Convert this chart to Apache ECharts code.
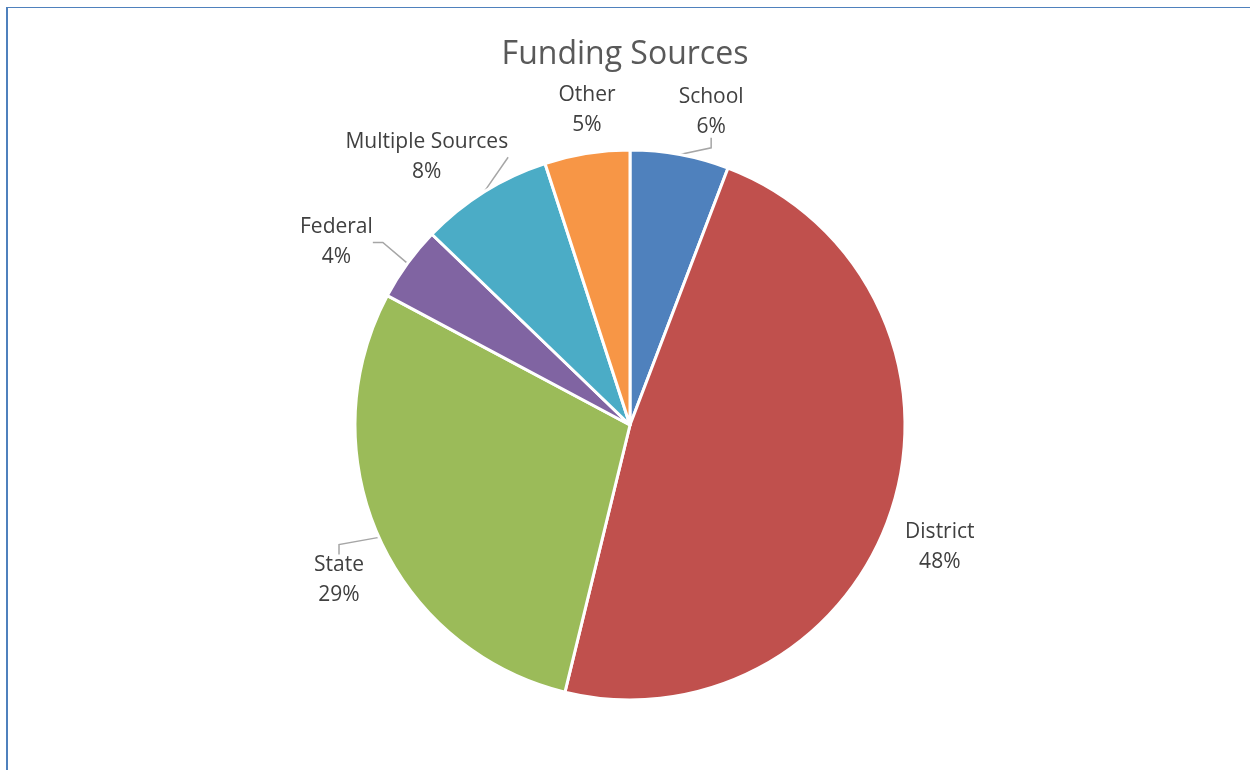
<!DOCTYPE html>
<html>
<head>
<meta charset="utf-8">
<script src="https://cdn.jsdelivr.net/npm/echarts@6/dist/echarts.min.js"></script>
<style>
html,body{margin:0;padding:0;background:#fff;}
#frame{position:absolute;left:6px;top:7px;width:1260px;height:780px;border-left:2px solid #4F81BD;border-top:1px solid #4F81BD;}
#chart{position:absolute;left:0;top:0;width:1250px;height:770px;}
</style>
</head>
<body>
<div id="frame"></div>
<div id="chart"></div>
<script>
const titleText = 'Funding Sources';
const categories = ['School', 'District', 'State', 'Federal', 'Multiple Sources', 'Other'];
const values = [5.8, 48.0, 29.0, 4.4, 7.8, 5.0];
const colors = ['#4F81BD', '#C0504D', '#9BBB59', '#8064A2', '#4BACC6', '#F79646'];
const noLeader = ['District', 'Other'];

const FONT = '"Open Sans", "Noto Sans", sans-serif';
const CX = 630, CY = 425, R = 275, GAP = 15;
// label spreading (text layout tweaks, like the original's best-fit placement)
const labelNudge = {
  'School': [23, 3], 'District': [-6, 24], 'State': [4, 23],
  'Federal': [-23, 14], 'Multiple Sources': [-15, 33], 'Other': [7, 1]
};

const total = values.reduce((a, b) => a + b, 0);
const mids = [];
let acc = 0;
values.forEach(v => { mids.push((acc + v / 2) / total * 2 * Math.PI); acc += v; });

const chart = echarts.init(document.getElementById('chart'), null, {renderer: 'canvas'});

const data = categories.map((c, i) => ({
  name: c,
  value: values[i],
  itemStyle: {color: colors[i]},
  labelLine: {show: noLeader.indexOf(c) < 0}
}));

chart.setOption({
  animation: false,
  title: {
    text: titleText,
    left: 'center',
    top: 34,
    textStyle: {fontFamily: FONT, fontSize: 32, fontWeight: 'normal', color: '#595959'}
  },
  series: [{
    type: 'pie',
    center: [CX, CY],
    radius: R,
    startAngle: 90,
    clockwise: true,
    data: data,
    itemStyle: {borderColor: '#ffffff', borderWidth: 3},
    label: {
      show: true,
      position: 'outside',
      formatter: p => '{a|' + p.name + '}\n{a|' + Math.round(p.percent) + '%}',
      rich: {
        a: {fontFamily: FONT, fontSize: 21, color: '#404040', lineHeight: 30, align: 'center'}
      }
    },
    labelLine: {
      show: true,
      length: 14,
      length2: 10,
      lineStyle: {color: '#A6A6A6', width: 1.5}
    },
    labelLayout: function (p) {
      const a = mids[p.dataIndex];
      const ux = Math.sin(a), uy = -Math.cos(a);
      const w = p.labelRect.width, h = p.labelRect.height;
      const d = R + GAP + Math.abs(ux) * w / 2 + Math.abs(uy) * h / 2;
      const n = labelNudge[categories[p.dataIndex]] || [0, 0];
      return {x: CX + ux * d + n[0], y: CY + uy * d + n[1], align: 'center', verticalAlign: 'middle'};
    },
    emphasis: {disabled: true}
  }]
});
</script>
</body>
</html>
